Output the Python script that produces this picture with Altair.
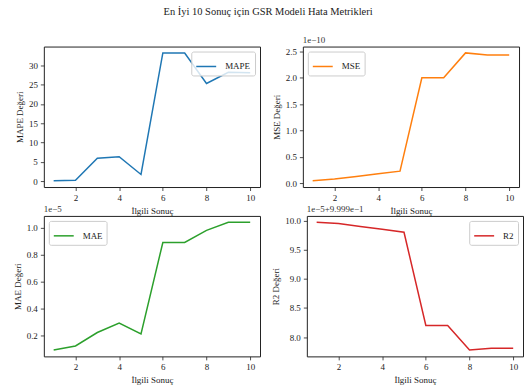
import altair as alt
import pandas as pd

# Data (values shown in each panel's offset units)
x_vals = [1, 2, 3, 4, 5, 6, 7, 8, 9, 10]
mape = [0.1, 0.2, 5.9, 6.3, 1.7, 33.2, 33.2, 25.3, 28.2, 28.1]
mse_e10 = [0.05, 0.08, 0.13, 0.18, 0.23, 2.00, 2.00, 2.47, 2.43, 2.43]   # x 1e-10
mae_e5 = [0.09, 0.12, 0.22, 0.29, 0.21, 0.89, 0.89, 0.98, 1.04, 1.04]    # x 1e-5
r2_off = [9.97, 9.95, 9.90, 9.85, 9.80, 8.20, 8.20, 7.78, 7.81, 7.81]    # x 1e-5 + 0.9999

x_ticks = [2, 4, 6, 8, 10]
FONT = "Liberation Serif"
W, H = 217, 141


def panel(name, values, color, ydomain, yvalues, yfmt, ytitle, legend_orient, offset_text):
    df = pd.DataFrame({"x": x_vals, "y": values, "metric": [name] * len(x_vals)})
    line = alt.Chart(df).mark_line(strokeWidth=1.5).encode(
        x=alt.X("x:Q",
                scale=alt.Scale(domain=[0.55, 10.45], nice=False, zero=False),
                axis=alt.Axis(values=x_ticks, format="d", title="İlgili Sonuç")),
        y=alt.Y("y:Q",
                scale=alt.Scale(domain=ydomain, nice=False, zero=False),
                axis=alt.Axis(values=yvalues, format=yfmt, title=ytitle)),
        color=alt.Color("metric:N",
                        scale=alt.Scale(domain=[name], range=[color]),
                        legend=alt.Legend(title=None, orient=legend_orient,
                                          offset=5)),
    )
    layers = [line]
    if offset_text:
        t = alt.Chart(pd.DataFrame({"t": [offset_text]})).mark_text(
            align="left", baseline="bottom", font=FONT, fontSize=9, color="#333"
        ).encode(x=alt.value(0), y=alt.value(-2), text="t:N")
        layers.append(t)
    return alt.layer(*layers).properties(width=W, height=H)


p1 = panel("MAPE", mape, "#1f77b4", [-1.55, 34.86], [0, 5, 10, 15, 20, 25, 30], "d",
           "MAPE Değeri", "top-right", None)
p2 = panel("MSE", mse_e10, "#ff7f0e", [-0.07, 2.59], [0.0, 0.5, 1.0, 1.5, 2.0, 2.5], ".1f",
           "MSE Değeri", "top-left", "1e−10")
p3 = panel("MAE", mae_e5, "#2ca02c", [0.0425, 1.0875], [0.2, 0.4, 0.6, 0.8, 1.0], ".1f",
           "MAE Değeri", "top-left", "1e−5")
p4 = panel("R2", r2_off, "#d62728", [7.67, 10.08], [8.0, 8.5, 9.0, 9.5, 10.0], ".1f",
           "R2 Değeri", "top-right", "1e−5+9.999e−1")

top = alt.hconcat(p1, p2, spacing=10).resolve_scale(color="independent", y="independent")
bottom = alt.hconcat(p3, p4, spacing=10).resolve_scale(color="independent", y="independent")

chart = alt.vconcat(top, bottom, spacing=-13).resolve_scale(
    color="independent", y="independent"
).properties(
    title=alt.TitleParams("En İyi 10 Sonuç için GSR Modeli Hata Metrikleri",
                          font=FONT, fontSize=10.5, fontWeight="normal",
                          color="#222", anchor="middle", offset=18),
    padding={"left": 12, "top": 6, "right": 2, "bottom": 2},
).configure_view(
    stroke="#222", strokeWidth=1
).configure_axis(
    grid=False, domain=False, tickColor="#222", tickSize=3.5, tickWidth=0.8,
    labelFont=FONT, labelFontSize=9, labelColor="#222", labelPadding=3,
    titleFont=FONT, titleFontSize=9, titleFontWeight="normal", titleColor="#222",
    titlePadding=4,
).configure_legend(
    labelFont=FONT, labelFontSize=9, labelColor="#222", labelOffset=8,
    symbolType="stroke", symbolStrokeWidth=1.5, symbolSize=400,
    strokeColor="#cccccc", fillColor="rgba(255,255,255,0.8)", padding=4,
    cornerRadius=2, rowPadding=0,
)

chart.save("out.html", embed_options={"renderer": "svg", "actions": False})
